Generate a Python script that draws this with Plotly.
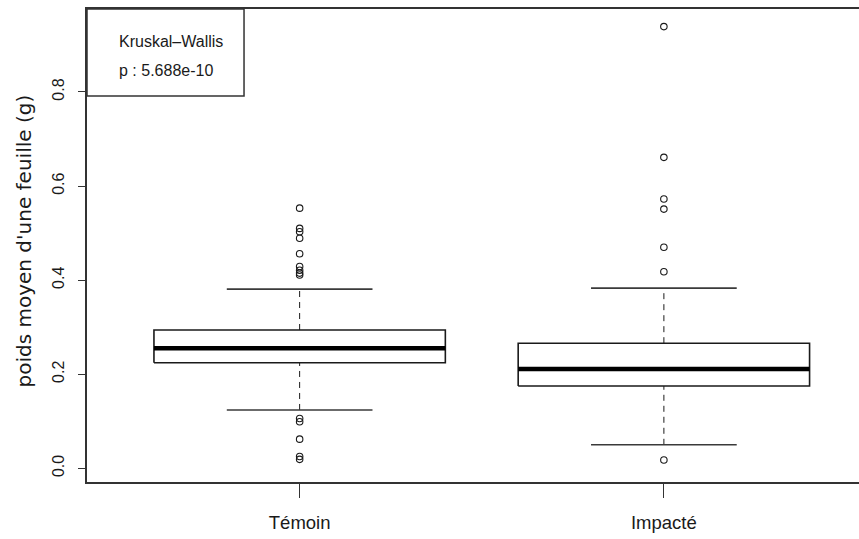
import plotly.graph_objects as go

# Summary statistics of mean leaf weight (g) per site group
groups = ["Témoin", "Impacté"]
positions = [1, 2]
q1 = [0.2245, 0.175]
median = [0.255, 0.211]
q3 = [0.294, 0.266]
whisker_low = [0.124, 0.050]
whisker_high = [0.381, 0.383]

# Points lying beyond the whiskers
outliers_temoin = [0.553, 0.510, 0.503, 0.489, 0.456, 0.429, 0.421, 0.415, 0.411,
                   0.106, 0.099, 0.062, 0.025, 0.019]
outliers_impacte = [0.939, 0.661, 0.5725, 0.551, 0.470, 0.418, 0.0176]
outliers = [outliers_temoin, outliers_impacte]

test_name = "Kruskal–Wallis"
p_label = "p : 5.688e-10"
y_title = "poids moyen d'une feuille (g)"
y_ticks = [0.0, 0.2, 0.4, 0.6, 0.8]

BOX_HALF = 0.4      # boxwex 0.8
CAP_HALF = 0.2      # staples at half the box width
INK = "#1a1a1a"
SANS = "Liberation Sans, Arial, sans-serif"

fig = go.Figure()

for xc, lo, a, m, b, hi, pts in zip(positions, whisker_low, q1, median, q3, whisker_high, outliers):
    # dashed whiskers
    for y0, y1 in ((b, hi), (lo, a)):
        fig.add_trace(go.Scatter(x=[xc, xc], y=[y0, y1], mode="lines",
                                 line=dict(color=INK, width=1, dash="6px,5px"),
                                 hoverinfo="skip", showlegend=False))
    # staples
    for yv in (lo, hi):
        fig.add_trace(go.Scatter(x=[xc - CAP_HALF, xc + CAP_HALF], y=[yv, yv], mode="lines",
                                 line=dict(color="#3a3a3a", width=1.6),
                                 hoverinfo="skip", showlegend=False))
    # box
    fig.add_trace(go.Scatter(x=[xc - BOX_HALF, xc + BOX_HALF, xc + BOX_HALF, xc - BOX_HALF, xc - BOX_HALF],
                             y=[a, a, b, b, a], mode="lines",
                             line=dict(color=INK, width=1.6),
                             hoverinfo="skip", showlegend=False))
    # median
    fig.add_trace(go.Scatter(x=[xc - BOX_HALF, xc + BOX_HALF], y=[m, m], mode="lines",
                             line=dict(color="#000000", width=4.5),
                             hoverinfo="skip", showlegend=False))
    # outliers
    fig.add_trace(go.Scatter(x=[xc] * len(pts), y=pts, mode="markers",
                             marker=dict(symbol="circle-open", size=6.5, color=INK,
                                         line=dict(width=1.1, color=INK)),
                             hoverinfo="skip", showlegend=False))

fig.update_layout(
    width=859, height=539,
    margin=dict(l=87, r=0, t=9, b=57),
    paper_bgcolor="white", plot_bgcolor="white",
    showlegend=False,
    xaxis=dict(
        range=[0.4162, 2.5357],
        tickmode="array", tickvals=positions, ticktext=groups,
        showgrid=False, zeroline=False,
        showline=True, mirror=True, linecolor="#333333", linewidth=1.5,
        ticks="outside", ticklen=14, tickwidth=1, tickcolor="#333333",
        tickfont=dict(family=SANS, size=18.5, color="#1a1a1a"),
        ticklabelstandoff=9,
    ),
    yaxis=dict(
        range=[-0.0291, 0.9764],
        tickmode="array", tickvals=y_ticks, ticktext=[f"{v:.1f}" for v in y_ticks],
        showgrid=False, zeroline=False,
        showline=True, linecolor="#333333", linewidth=1.5,
        ticks="outside", ticklen=7, tickwidth=1, tickcolor="#333333",
        tickangle=-90,
        tickfont=dict(family=SANS, size=16, color="#1a1a1a"),
        ticklabelstandoff=8,
    ),
    shapes=[dict(type="rect", xref="paper", yref="paper",
                 x0=0, x1=0.2034, y0=0.816, y1=1,
                 line=dict(color="#333333", width=1.5), fillcolor="white", layer="above")],
    annotations=[
        dict(text=test_name, xref="paper", yref="paper", x=0.0389, y=(482 - 41) / 473,
             xanchor="left", yanchor="middle", showarrow=False,
             font=dict(family=SANS, size=16, color="#1a1a1a")),
        dict(text=p_label, xref="paper", yref="paper", x=0.0389, y=(482 - 70) / 473,
             xanchor="left", yanchor="middle", showarrow=False,
             font=dict(family=SANS, size=16, color="#1a1a1a")),
        dict(text=y_title, xref="paper", yref="paper", x=(23.5 - 87) / 772, y=(482 - 241) / 473,
             xanchor="center", yanchor="middle", textangle=-90, showarrow=False,
             font=dict(family="DejaVu Sans, sans-serif", size=20, color="#1a1a1a")),
    ],
)

fig.write_html("out.html")
